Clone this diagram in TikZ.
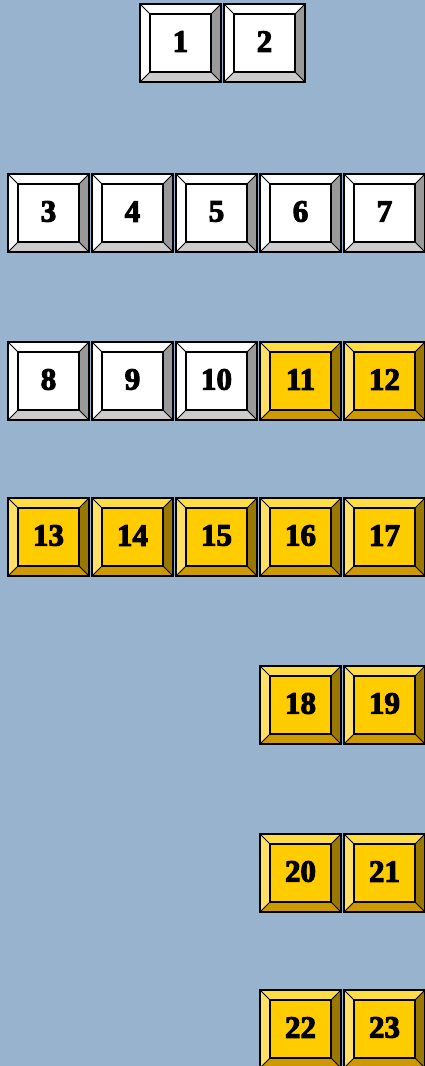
\documentclass[tikz,border=0pt]{standalone}
\usepackage{fontspec}
\newfontfamily\numfont{Liberation Serif}[BoldFeatures={FakeBold=3.5}]
\definecolor{bg}{RGB}{152,179,206}
\definecolor{wface}{RGB}{255,255,255}
\definecolor{wtop}{RGB}{255,255,255}
\definecolor{wleft}{RGB}{255,255,255}
\definecolor{wright}{RGB}{153,153,153}
\definecolor{wbottom}{RGB}{204,204,204}
\definecolor{yface}{RGB}{255,204,0}
\definecolor{ytop}{RGB}{255,221,68}
\definecolor{yleft}{RGB}{255,224,102}
\definecolor{yright}{RGB}{153,119,0}
\definecolor{ybottom}{RGB}{204,153,0}
\tikzset{
  outerline/.style={draw=black,line width=1.3pt},
  diagline/.style={draw=black,line width=1pt},
  innerline/.style={draw=black,line width=1.6pt},
  keylabel/.style={inner sep=0pt,font=\numfont\bfseries\fontsize{31}{31}\selectfont,text=black}
}
\newcommand\kbox[5]{%
  \begin{scope}[shift={(#2,#3)}]
    \fill[#4top] (0,0) -- (81,0) -- (71,10) -- (10,10) -- cycle;
    \fill[#4left] (0,0) -- (10,10) -- (10,68) -- (0,78) -- cycle;
    \fill[#4right] (81,0) -- (81,78) -- (71,68) -- (71,10) -- cycle;
    \fill[#4bottom] (0,78) -- (81,78) -- (71,68) -- (10,68) -- cycle;
    \fill[#4face] (10,10) rectangle (71,68);
    \path[diagline] (0,0) -- (10,10) (81,0) -- (71,10) (0,78) -- (10,68) (81,78) -- (71,68);
    \path[innerline] (10,10) rectangle (71,68);
    \path[outerline] (0,0) rectangle (81,78);
    \node[keylabel] (#1) at (40.5,37.5) {#5};
  \end{scope}%
}
\begin{document}
\begin{tikzpicture}[x=1pt,y=-1pt]
\fill[bg] (0,0) rectangle (425,1066);
\useasboundingbox (0,0) rectangle (425,1066);
\kbox{k1}{140}{4}{w}{1}
\kbox{k2}{224}{4}{w}{2}
\kbox{k3}{8}{174}{w}{3}
\kbox{k4}{92}{174}{w}{4}
\kbox{k5}{176}{174}{w}{5}
\kbox{k6}{260}{174}{w}{6}
\kbox{k7}{344}{174}{w}{7}
\kbox{k8}{8}{342}{w}{8}
\kbox{k9}{92}{342}{w}{9}
\kbox{k10}{176}{342}{w}{10}
\kbox{k11}{260}{342}{y}{11}
\kbox{k12}{344}{342}{y}{12}
\kbox{k13}{8}{498}{y}{13}
\kbox{k14}{92}{498}{y}{14}
\kbox{k15}{176}{498}{y}{15}
\kbox{k16}{260}{498}{y}{16}
\kbox{k17}{344}{498}{y}{17}
\kbox{k18}{260}{666}{y}{18}
\kbox{k19}{344}{666}{y}{19}
\kbox{k20}{260}{834}{y}{20}
\kbox{k21}{344}{834}{y}{21}
\kbox{k22}{260}{990}{y}{22}
\kbox{k23}{344}{990}{y}{23}
\end{tikzpicture}
\end{document}
